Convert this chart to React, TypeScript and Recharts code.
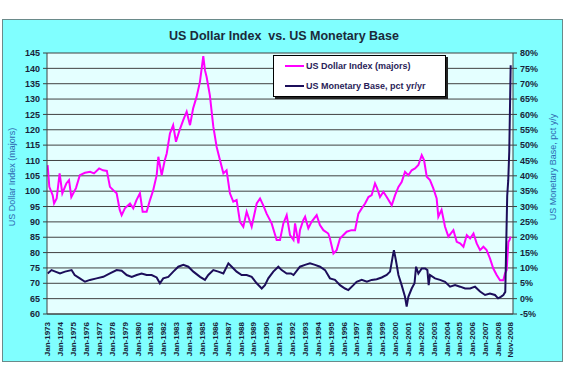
import React from 'react';
import { LineChart, Line, XAxis, YAxis, CartesianGrid, Legend } from 'recharts';

const FONT = "'Liberation Sans', Arial, sans-serif";

const chartTitle = 'US Dollar Index  vs. US Monetary Base';
const leftAxisTitle = 'US Dollar Index (majors)';
const rightAxisTitle = 'US Monetary Base, pct y/y';
const seriesNames = ['US Dollar Index (majors)', 'US Monetary Base, pct yr/yr'];
const seriesColors = ['#FF00FF', '#1C0E5A'];

// US Dollar Index (majors) — time in decimal years, value in index points
const usdTimes = [
  1973.0, 1973.13, 1973.39, 1973.5, 1973.7, 1973.93, 1974.14, 1974.45, 1974.66, 1974.84,
  1975.2, 1975.5, 1975.9, 1976.3, 1976.6, 1977.0, 1977.3, 1977.6, 1977.84, 1978.1,
  1978.36, 1978.6, 1978.75, 1979.0, 1979.4, 1979.65, 1979.9, 1980.17, 1980.38, 1980.69,
  1980.95, 1981.2, 1981.47, 1981.6, 1981.86, 1982.1, 1982.25, 1982.5, 1982.75, 1982.97,
  1983.25, 1983.54, 1983.8, 1984.06, 1984.3, 1984.57, 1984.83, 1985.09, 1985.22, 1985.35,
  1985.6, 1985.87, 1986.13, 1986.39, 1986.65, 1986.9, 1987.16, 1987.42, 1987.68, 1987.94,
  1988.2, 1988.46, 1988.85, 1989.24, 1989.5, 1989.75, 1990.01, 1990.4, 1990.79, 1991.05,
  1991.31, 1991.57, 1991.83, 1992.1, 1992.22, 1992.48, 1992.6, 1992.86, 1993.0, 1993.25,
  1993.5, 1993.9, 1994.15, 1994.42, 1994.8, 1994.93, 1995.2, 1995.45, 1995.71, 1996.23,
  1996.6, 1996.88, 1997.14, 1997.4, 1997.66, 1997.92, 1998.17, 1998.43, 1998.6, 1998.82,
  1999.08, 1999.34, 1999.73, 1999.99, 2000.25, 2000.5, 2000.76, 2001.02, 2001.28, 2001.54,
  2001.8, 2002.06, 2002.24, 2002.45, 2002.7, 2002.96, 2003.22, 2003.35, 2003.6, 2003.87,
  2004.13, 2004.52, 2004.78, 2005.04, 2005.3, 2005.56, 2005.82, 2006.08, 2006.33, 2006.59,
  2006.85, 2007.1, 2007.36, 2007.62, 2007.88, 2008.14, 2008.4, 2008.53, 2008.66, 2008.79,
  2008.87, 2008.97,
];
const usdValues = [
  108.5, 101.4, 98.7, 96, 97.6, 105.8, 99.3, 102.5, 103.6, 98.1,
  101, 105.2, 106, 106.3, 105.8, 107.4, 106.8, 106.6, 101.4, 100.3,
  99.3, 93.9, 92.2, 94.4, 96, 94.4, 97.1, 99.3, 93.3, 93.3,
  97.1, 100.3, 105.2, 111.2, 105.2, 110.1, 112.3, 118.8, 121.5, 116.1,
  119.9, 123.2, 125.9, 121.5, 126.9, 130.7, 135.6, 144, 139.4, 137.2,
  131.3, 121, 114.4, 110.1, 105.8, 106.8, 99.3, 96.6, 97.1, 90,
  88.4, 93.3, 88.4, 96, 97.6, 95.4, 92.7, 89.5, 84.1, 84.1,
  89.5, 92.2, 85.7, 84.1, 89.5, 83, 87.3, 90.6, 91.7, 87.9,
  90, 92.2, 89, 87.3, 86.2, 84.6, 79.7, 80.8, 84.6, 86.8,
  87.3, 87.3, 92.7, 94.4, 96, 98.1, 98.7, 102.5, 100.9, 98.1,
  99.8, 98.1, 95.4, 98.7, 101.4, 103, 106.3, 105.2, 106.8, 107.4,
  108.5, 111.7, 110.1, 104.7, 103.6, 100.9, 97.6, 91.7, 93.9, 88.4,
  85.2, 87.3, 83.5, 83, 81.9, 85.7, 84.6, 86.2, 83, 80.8,
  81.9, 80.8, 78.1, 74.8, 72.7, 71, 71, 73.2, 74.3, 83.5,
  84, 85.2,
];

// US Monetary Base, pct yr/yr
const baseTimes = [
  1973.0, 1973.3, 1973.6, 1973.96, 1974.35, 1974.86, 1975.1, 1975.5, 1975.9, 1976.29,
  1976.8, 1977.32, 1977.84, 1978.36, 1978.75, 1979.14, 1979.53, 1979.92, 1980.3, 1980.69,
  1981.08, 1981.47, 1981.72, 1981.98, 1982.37, 1982.76, 1983.15, 1983.54, 1983.93, 1984.32,
  1984.84, 1985.22, 1985.48, 1985.87, 1986.26, 1986.65, 1987.04, 1987.3, 1987.68, 1988.07,
  1988.46, 1988.85, 1989.24, 1989.63, 1989.88, 1990.14, 1990.53, 1990.92, 1991.18, 1991.57,
  1991.9, 1992.1, 1992.6, 1992.99, 1993.38, 1993.77, 1994.16, 1994.55, 1994.93, 1995.32,
  1995.71, 1996.1, 1996.36, 1996.75, 1997.0, 1997.4, 1997.8, 1998.17, 1998.56, 1998.95,
  1999.34, 1999.6, 1999.8, 1999.9, 2000.05, 2000.25, 2000.5, 2000.76, 2000.89, 2001.02,
  2001.28, 2001.5, 2001.62, 2001.8, 2002.06, 2002.33, 2002.5, 2002.6, 2002.7, 2003.09,
  2003.48, 2003.87, 2004.26, 2004.65, 2005.04, 2005.43, 2005.82, 2006.2, 2006.59, 2006.98,
  2007.36, 2007.75, 2007.99, 2008.2, 2008.4, 2008.55, 2008.7, 2008.78, 2008.86, 2008.97,
];
const baseValues = [
  8.2, 9.3, 8.8, 8.2, 8.8, 9.3, 7.7, 6.6, 5.5, 6.1,
  6.6, 7.1, 8.2, 9.3, 9.1, 7.7, 7.1, 7.7, 8.2, 7.7,
  7.7, 6.9, 5, 6.6, 7.1, 8.8, 10.4, 11, 10.4, 8.8,
  7.1, 6.1, 7.7, 9.3, 8.8, 8.2, 11.5, 10.4, 8.8, 7.7,
  7.7, 7.1, 5, 3.3, 4.4, 6.6, 8.8, 10.4, 9.3, 8.2,
  8.2, 7.7, 10.4, 11, 11.5, 11, 10.4, 9.3, 6.6, 6.1,
  4.4, 3.3, 2.8, 4.4, 5.5, 6.1, 5.5, 6.1, 6.3, 6.9,
  7.7, 8.8, 13.6, 15.8, 12.6, 7.7, 4.4, 0.6, -2.6, 0.6,
  3.3, 5, 10.4, 8.2, 9.8, 9.8, 9.3, 4.4, 7.7, 6.6,
  6.1, 5.5, 3.9, 4.4, 3.9, 3.3, 3.3, 3.9, 2.3, 1.2,
  1.7, 1.2, 0.1, 0.6, 1.2, 2.2, 33.5, 38.5, 48, 76,
];

const tickYears = [
  1973, 1974, 1975, 1976, 1977, 1978, 1979, 1980, 1981, 1982, 1983, 1984,
  1985, 1986, 1987, 1988, 1989, 1990, 1991, 1992, 1993, 1994, 1995, 1996,
  1997, 1998, 1999, 2000, 2001, 2002, 2003, 2004, 2005, 2006, 2007, 2008, 2008.92,
];
const tickLabels = [
  'Jan-1973', 'Jan-1974', 'Jan-1975', 'Jan-1976', 'Jan-1977', 'Jan-1978', 'Jan-1979',
  'Jan-1980', 'Jan-1981', 'Jan-1982', 'Jan-1983', 'Jan-1984', 'Jan-1985', 'Jan-1986',
  'Jan-1987', 'Jan-1988', 'Jan-1989', 'Jan-1990', 'Jan-1991', 'Jan-1992', 'Jan-1993',
  'Jan-1994', 'Jan-1995', 'Jan-1996', 'Jan-1997', 'Jan-1998', 'Jan-1999', 'Jan-2000',
  'Jan-2001', 'Jan-2002', 'Jan-2003', 'Jan-2004', 'Jan-2005', 'Jan-2006', 'Jan-2007',
  'Jan-2008', 'Nov-2008',
];
const leftTicks = [60, 65, 70, 75, 80, 85, 90, 95, 100, 105, 110, 115, 120, 125, 130, 135, 140, 145];
const rightTicks = [-5, 0, 5, 10, 15, 20, 25, 30, 35, 40, 45, 50, 55, 60, 65, 70, 75, 80];

const usdData = usdTimes.map((t, i) => ({ t, v: usdValues[i] }));
const baseData = baseTimes.map((t, i) => ({ t, v: baseValues[i] }));

const TEXT_DARK = '#1a1f3a';
const AXIS = '#404040';

const XTick = (props: any) => {
  const { x, y, payload } = props;
  const i = tickYears.indexOf(payload.value);
  return (
    <g transform={`translate(${x},${y})`}>
      <text
        transform="rotate(-90)"
        textAnchor="end"
        dy="0.35em"
        fontSize={8}
        fontWeight="bold"
        fontFamily={FONT}
        fill={TEXT_DARK}
      >
        {i >= 0 ? tickLabels[i] : ''}
      </text>
    </g>
  );
};

const LegendBox = () => (
  <div
    style={{
      position: 'relative',
      width: 173,
      height: 42,
      boxSizing: 'border-box',
      background: '#FFFFFF',
      border: '1px solid #000',
      boxShadow: '2px 2px 0 #222',
      fontFamily: FONT,
    }}
  >
    {seriesNames.map((name, i) => (
      <div
        key={name}
        style={{
          position: 'absolute',
          left: 11,
          top: 4 + i * 20,
          height: 12,
          display: 'flex',
          alignItems: 'center',
          whiteSpace: 'nowrap',
        }}
      >
        <span style={{ display: 'inline-block', width: 19, height: 2, background: seriesColors[i], marginRight: 2 }} />
        <span style={{ fontSize: 9, fontWeight: 'bold', color: '#2a1c58' }}>{name}</span>
      </div>
    ))}
  </div>
);

export default function App() {
  return (
    <div style={{ position: 'absolute', left: 0, top: 0, width: 568, height: 378, background: '#fff', fontFamily: FONT }}>
      <div
        style={{
          position: 'absolute',
          left: 2,
          top: 19,
          width: 561,
          height: 343,
          boxSizing: 'border-box',
          background: '#80FFFF',
          border: '1px solid #6a8a8a',
        }}
      />
      <div
        style={{
          position: 'absolute',
          left: 0,
          top: 28,
          width: 568,
          textAlign: 'center',
          fontSize: 12.5,
          fontWeight: 'bold',
          color: '#1b2a3a',
          whiteSpace: 'pre',
          lineHeight: '16px',
        }}
      >
        {chartTitle}
      </div>
      <div
        style={{
          position: 'absolute',
          left: 12 - 70,
          top: 177 - 6,
          width: 140,
          height: 12,
          lineHeight: '12px',
          textAlign: 'center',
          fontSize: 9,
          color: '#2f67b0',
          transform: 'rotate(-90deg)',
          whiteSpace: 'nowrap',
        }}
      >
        {leftAxisTitle}
      </div>
      <div
        style={{
          position: 'absolute',
          left: 553 - 70,
          top: 167 - 6,
          width: 140,
          height: 12,
          lineHeight: '12px',
          textAlign: 'center',
          fontSize: 9,
          color: '#2f67b0',
          transform: 'rotate(-90deg)',
          whiteSpace: 'nowrap',
        }}
      >
        {rightAxisTitle}
      </div>
      <div style={{ position: 'absolute', left: 0, top: 0 }}>
        <LineChart width={568} height={378} margin={{ top: 53, right: 0, bottom: 19, left: 0 }}>
          <CartesianGrid yAxisId="left" vertical={false} stroke={AXIS} fill="#E4FFFF" fillOpacity={1} />
          <XAxis
            type="number"
            dataKey="t"
            domain={[1972.95, 2009.15]}
            ticks={tickYears}
            interval={0}
            allowDataOverflow
            height={45}
            tick={<XTick />}
            tickLine={false}
            axisLine={{ stroke: AXIS }}
          />
          <YAxis
            yAxisId="left"
            domain={[60, 145]}
            ticks={leftTicks}
            interval={0}
            width={47}
            tickSize={4}
            tickMargin={3}
            axisLine={{ stroke: AXIS }}
            tickLine={{ stroke: AXIS }}
            tick={{ fontSize: 9, fontWeight: 'bold', fill: TEXT_DARK, fontFamily: FONT }}
          />
          <YAxis
            yAxisId="right"
            orientation="right"
            domain={[-5, 80]}
            ticks={rightTicks}
            interval={0}
            width={55}
            tickSize={4}
            tickMargin={3}
            tickFormatter={(v: number) => `${v}%`}
            axisLine={{ stroke: AXIS }}
            tickLine={{ stroke: AXIS }}
            tick={{ fontSize: 9, fontWeight: 'bold', fill: TEXT_DARK, fontFamily: FONT }}
          />
          <Legend
            layout="horizontal"
            verticalAlign="middle"
            align="center"
            wrapperStyle={{ position: 'absolute', left: 273, top: 55, width: 173, height: 42, margin: 0 }}
            content={<LegendBox />}
          />
          <Line
            data={usdData}
            dataKey="v"
            name={seriesNames[0]}
            yAxisId="left"
            type="linear"
            stroke={seriesColors[0]}
            strokeWidth={2}
            dot={false}
            isAnimationActive={false}
          />
          <Line
            data={baseData}
            dataKey="v"
            name={seriesNames[1]}
            yAxisId="right"
            type="linear"
            stroke={seriesColors[1]}
            strokeWidth={2}
            dot={false}
            isAnimationActive={false}
          />
        </LineChart>
      </div>
    </div>
  );
}
